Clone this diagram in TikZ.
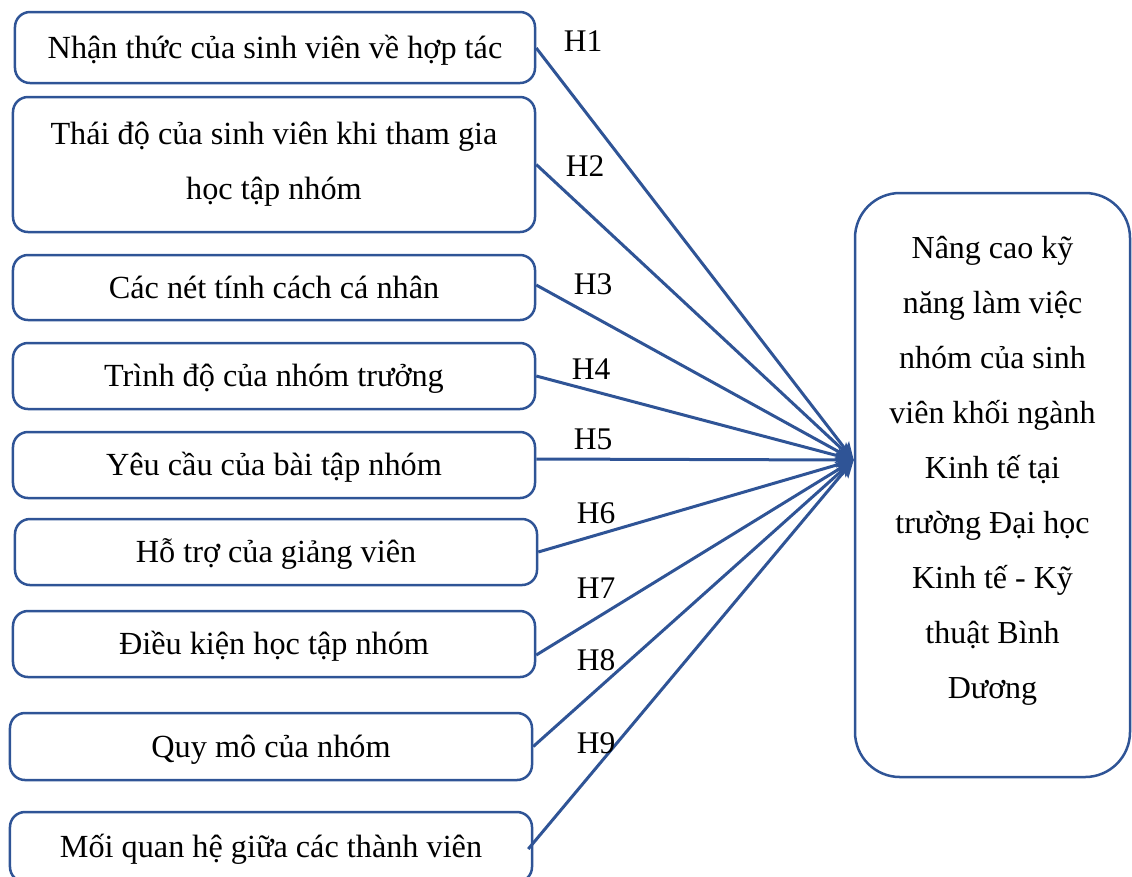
\documentclass[tikz,border=0pt]{standalone}
\usepackage{fontspec}
\setmainfont{Liberation Serif}
\usetikzlibrary{arrows.meta}
\definecolor{frameblue}{RGB}{47,84,150}
\tikzset{
  factor/.style={draw=frameblue, line width=1pt, rounded corners=6pt,
    inner sep=0pt, align=center, text=black,
    font=\fontsize{12.9}{22}\selectfont},
  oneline/.style={factor, text height=11pt, text depth=2.6pt},
  goalbox/.style={draw=frameblue, line width=1pt, rounded corners=18pt,
    inner sep=0pt, minimum width=110pt, minimum height=233.6pt},
  goaltext/.style={align=center, inner sep=0pt, font=\fontsize{12.8}{22}\selectfont},
  link/.style={draw=frameblue, line width=1.2pt,
    -{Stealth[length=7pt, width=6pt, inset=1.5pt]}},
  hyp/.style={font=\fontsize{12.6}{14}\selectfont, inner sep=0pt}
}
\begin{document}
\begin{tikzpicture}[x=0.4pt, y=-0.4pt]
\useasboundingbox (0,0) rectangle (1132,876);
\clip (0,0) rectangle (1132,876);

% factor boxes on the left
\node[oneline, minimum width=208pt,   minimum height=28.4pt] (b1) at (275,47.5) {Nhận thức của sinh viên về hợp tác};
\node[factor,  minimum width=208.8pt, minimum height=54pt]   (b2) at (274,164.5) {Thái độ của sinh viên khi tham gia\\học tập nhóm};
\node[oneline, minimum width=208.8pt, minimum height=26pt]   (b3) at (274,287.5) {Các nét tính cách cá nhân};
\node[oneline, minimum width=208.8pt, minimum height=26.4pt] (b4) at (274,376) {Trình độ của nhóm trưởng};
\node[oneline, minimum width=208.8pt, minimum height=26.4pt] (b5) at (274,465) {Yêu cầu của bài tập nhóm};
\node[oneline, minimum width=208.8pt, minimum height=26.4pt] (b6) at (276,552) {Hỗ trợ của giảng viên};
\node[oneline, minimum width=208.8pt, minimum height=26.4pt] (b7) at (274,644) {Điều kiện học tập nhóm};
\node[oneline, minimum width=208.8pt, minimum height=26.8pt] (b8) at (271,746.5) {Quy mô của nhóm};
\node[oneline, minimum width=208.8pt, minimum height=28pt]   (b9) at (271,847) {Mối quan hệ giữa các thành viên};

% outcome box on the right
\node[goalbox] (goal) at (992.5,485) {};
\node[goaltext] (goaltxt) at (992.5,471) {Nâng cao kỹ\\năng làm việc\\nhóm của sinh\\viên khối ngành\\Kinh tế tại\\trường Đại học\\Kinh tế - Kỹ\\thuật Bình\\Dương};

% connector start points on the factor boxes
\coordinate (s1) at ([yshift=-0.2pt]b1.east);
\coordinate (s2) at (b2.east);
\coordinate (s3) at ([yshift=1pt]b3.east);
\coordinate (s4) at (b4.east);
\coordinate (s5) at ([yshift=2.4pt]b5.east);
\coordinate (s6) at (b6.east);
\coordinate (s7) at ([yshift=-4.4pt]b7.east);
\coordinate (s8) at (b8.east);
\coordinate (s9) at ([xshift=-2pt, yshift=-0.8pt]b9.east);
\coordinate (tip) at ([yshift=10pt]goal.west);

\foreach \i in {1,...,9} {
  \draw[link] (s\i) -- (tip);
}

% hypothesis labels
\node[hyp] (h1) at (583,41) {H1};
\node[hyp] (h2) at (585,166) {H2};
\node[hyp] (h3) at (593,284) {H3};
\node[hyp] (h4) at (591,369) {H4};
\node[hyp] (h5) at (593,439) {H5};
\node[hyp] (h6) at (596,513) {H6};
\node[hyp] (h7) at (596,588) {H7};
\node[hyp] (h8) at (596,660) {H8};
\node[hyp] (h9) at (596,743) {H9};
\end{tikzpicture}
\end{document}
